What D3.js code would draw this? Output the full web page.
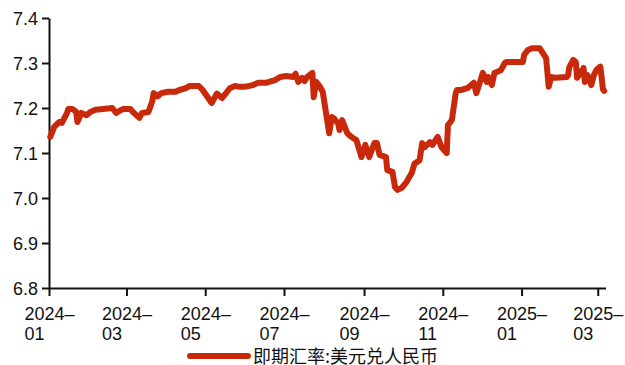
<!DOCTYPE html>
<html>
<head>
<meta charset="utf-8">
<script src="https://cdn.jsdelivr.net/npm/d3@7"></script>
<style>
  html, body { margin: 0; padding: 0; background: #fff; }
  svg { display: block; }
  .tick text, .lbl { font-family: "Liberation Sans", Arial, sans-serif; font-size: 18px; fill: #111; }
  .legend-text { font-family: "Noto Sans CJK SC", sans-serif; font-size: 18px; fill: #111; }
</style>
</head>
<body>
<svg id="chart" width="625" height="365"></svg>
<script>
// USD/CNY spot rate, trading days
const dates = [
  "2024-01-02","2024-01-05","2024-01-09","2024-01-11","2024-01-15","2024-01-16","2024-01-19","2024-01-22","2024-01-23","2024-01-26",
  "2024-01-30","2024-02-02","2024-02-06","2024-02-12","2024-02-19","2024-02-22","2024-02-26","2024-02-28","2024-03-04","2024-03-06",
  "2024-03-11","2024-03-13","2024-03-18","2024-03-21","2024-03-22","2024-03-25","2024-03-28","2024-04-02","2024-04-08","2024-04-11",
  "2024-04-16","2024-04-19","2024-04-26","2024-04-29","2024-05-06","2024-05-09","2024-05-10","2024-05-14","2024-05-16","2024-05-20",
  "2024-05-24","2024-05-28","2024-05-31","2024-06-04","2024-06-07","2024-06-11","2024-06-17","2024-06-24","2024-06-28","2024-07-03",
  "2024-07-08","2024-07-10","2024-07-12","2024-07-15","2024-07-17","2024-07-19","2024-07-23","2024-07-24","2024-07-26","2024-07-29",
  "2024-07-31","2024-08-05","2024-08-07","2024-08-08","2024-08-09","2024-08-12","2024-08-13","2024-08-15","2024-08-19","2024-08-22",
  "2024-08-26","2024-08-30","2024-09-02","2024-09-05","2024-09-09","2024-09-11","2024-09-13","2024-09-18","2024-09-19","2024-09-23",
  "2024-09-25","2024-09-27","2024-09-30","2024-10-04","2024-10-08","2024-10-10","2024-10-14","2024-10-16","2024-10-18","2024-10-22",
  "2024-10-24","2024-10-28","2024-10-31","2024-11-04","2024-11-05","2024-11-08","2024-11-11","2024-11-12","2024-11-15","2024-11-20",
  "2024-11-25","2024-11-27","2024-11-29","2024-12-02","2024-12-05","2024-12-06","2024-12-09","2024-12-11","2024-12-16","2024-12-19",
  "2024-12-20","2025-01-02","2025-01-03","2025-01-06","2025-01-09","2025-01-15","2025-01-17","2025-01-20","2025-01-22","2025-01-24",
  "2025-01-27","2025-02-05","2025-02-06","2025-02-07","2025-02-10","2025-02-12","2025-02-13","2025-02-17","2025-02-18","2025-02-19",
  "2025-02-21","2025-02-24","2025-02-26","2025-02-28","2025-03-03","2025-03-04","2025-03-05","2025-03-06"
];
const spotRate = [
  7.136,7.158,7.169,7.167,7.189,7.198,7.198,7.192,7.169,7.189,
  7.184,7.191,7.196,7.198,7.200,7.189,7.196,7.198,7.198,7.191,
  7.178,7.189,7.191,7.215,7.233,7.226,7.233,7.236,7.236,7.240,
  7.244,7.249,7.249,7.240,7.211,7.227,7.232,7.222,7.229,7.244,
  7.249,7.247,7.247,7.249,7.251,7.256,7.256,7.262,7.269,7.271,
  7.269,7.276,7.258,7.267,7.260,7.269,7.278,7.224,7.258,7.247,
  7.236,7.144,7.180,7.178,7.176,7.165,7.151,7.173,7.144,7.136,
  7.129,7.091,7.118,7.091,7.122,7.122,7.096,7.091,7.062,7.058,
  7.024,7.018,7.022,7.036,7.056,7.076,7.084,7.122,7.113,7.124,
  7.118,7.136,7.113,7.100,7.162,7.173,7.233,7.240,7.240,7.244,
  7.256,7.233,7.251,7.278,7.258,7.269,7.251,7.278,7.284,7.300,
  7.302,7.302,7.318,7.329,7.333,7.333,7.324,7.311,7.247,7.269,
  7.267,7.269,7.273,7.291,7.307,7.302,7.267,7.284,7.289,7.258,
  7.273,7.251,7.273,7.285,7.292,7.268,7.242,7.238
];
const yTicks = [6.8, 6.9, 7.0, 7.1, 7.2, 7.3, 7.4];
const xTicks = ["2024-01-01","2024-03-01","2024-05-01","2024-07-01","2024-09-01","2024-11-01","2025-01-01","2025-03-01"];
const seriesName = "即期汇率:美元兑人民币";

const parse = d3.utcParse("%Y-%m-%d");
const data = dates.map((d, i) => ({ date: parse(d), value: spotRate[i] }));

const svg = d3.select("#chart");
const plotLeft = 49, plotRight = 605.5, plotTop = 18, plotBottom = 288;

const x = d3.scaleUtc()
  .domain([parse("2024-01-01"), parse("2025-03-07")])
  .range([plotLeft, plotRight]);
const y = d3.scaleLinear()
  .domain([6.8, 7.4])
  .range([plotBottom, plotTop]);

const lineColor = "#c8290b";

// y axis
const yAxis = svg.append("g")
  .attr("transform", `translate(${plotLeft},0)`)
  .call(d3.axisLeft(y).tickValues(yTicks).tickFormat(d3.format(".1f")).tickSize(7).tickPadding(4).tickSizeOuter(0));
yAxis.selectAll("text").attr("class", "lbl").attr("dy", "0.36em");

// x axis with two-line labels: "YYYY–" over "MM", both starting at the same x
const xAxis = svg.append("g")
  .attr("transform", `translate(0,${plotBottom})`)
  .call(d3.axisBottom(x).tickValues(xTicks.map(parse)).tickFormat("").tickSize(8).tickSizeOuter(0));

xAxis.selectAll(".tick").each(function(d) {
  const g = d3.select(this);
  const yr = d3.utcFormat("%Y")(d) + "–";
  const mo = d3.utcFormat("%m")(d);
  const t1 = g.append("text").attr("class", "lbl").attr("y", 32).attr("text-anchor", "start").text(yr);
  const w = t1.node().getComputedTextLength();
  t1.attr("x", -w / 2);
  g.append("text").attr("class", "lbl").attr("y", 52).attr("x", -w / 2).attr("text-anchor", "start").text(mo);
});

[yAxis, xAxis].forEach(a => {
  a.select(".domain").attr("stroke", "#111").attr("stroke-width", 2);
  a.selectAll(".tick line").attr("stroke", "#111").attr("stroke-width", 2);
});

// series line
svg.append("path")
  .datum(data)
  .attr("fill", "none")
  .attr("stroke", lineColor)
  .attr("stroke-width", 6)
  .attr("stroke-linejoin", "round")
  .attr("stroke-linecap", "round")
  .attr("d", d3.line().x(d => x(d.date)).y(d => y(d.value)));

// legend
const legend = svg.append("g").attr("transform", "translate(190,356)");
legend.append("line")
  .attr("x1", 0).attr("x2", 58).attr("y1", 0).attr("y2", 0)
  .attr("stroke", lineColor).attr("stroke-width", 6).attr("stroke-linecap", "round");
legend.append("text")
  .attr("class", "legend-text")
  .attr("x", 63).attr("y", 0).attr("dy", "0.4em")
  .text(seriesName);
</script>
</body>
</html>
